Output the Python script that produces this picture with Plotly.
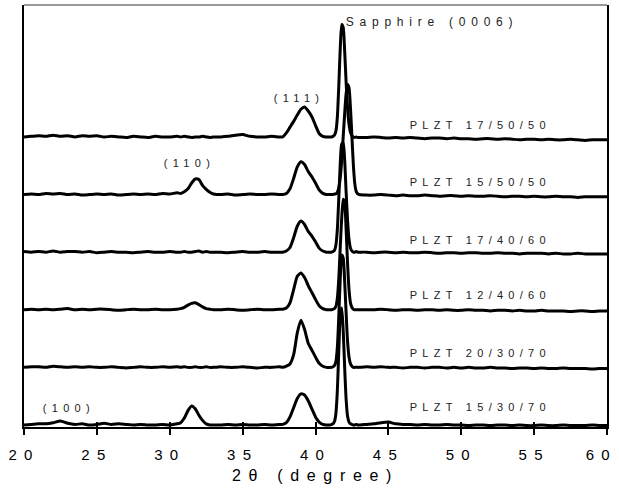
import plotly.graph_objects as go

# 2-theta sampling grid (degrees)
two_theta = [
    20, 20.5, 21, 21.5, 22, 22.5, 23, 23.5, 24, 24.5, 25, 25.5, 26, 26.5, 27, 27.5, 28, 28.5, 29, 29.5, 30, 30.5,
    30.75, 31, 31.25, 31.5, 31.75, 32, 32.25, 32.5, 32.75, 33,
    33.5, 34, 34.5, 35, 35.5, 36, 36.5, 37, 37.5,
    37.75, 38, 38.25, 38.5, 38.75, 39, 39.25, 39.5, 39.75, 40, 40.25, 40.5, 40.75,
    41.0, 41.1, 41.2, 41.3, 41.4, 41.5, 41.6, 41.7, 41.8, 41.9, 42.0, 42.1, 42.2, 42.3, 42.4, 42.5, 42.6, 42.7, 42.8, 42.9, 43.0,
    43.5, 44, 44.5, 45, 45.5, 46, 46.5, 47, 47.5, 48, 48.5, 49, 49.5, 50, 50.5, 51, 51.5, 52, 52.5, 53, 53.5, 54, 54.5,
    55, 55.5, 56, 56.5, 57, 57.5, 58, 58.5, 59, 59.5, 60,
]

# Intensities (arbitrary units, relative to each pattern's own baseline)
plzt_17_50_50 = [
    0.00, 0.01, 0.02, 0.01, 0.03, 0.01, 0.02, 0.00, 0.02, 0.01, 0.02, 0.00, 0.01, 0.00, -0.01, 0.01, 0.00, -0.01, 0.01, 0.00, 0.00, 0.01,
    0.00, 0.01, 0.00, -0.01, 0.00, 0.00, 0.01, 0.00, -0.01, 0.00,
    0.00, 0.01, 0.03, 0.04, 0.01, 0.00, 0.00, 0.01, 0.00,
    0.00, 0.07, 0.17, 0.27, 0.38, 0.48, 0.52, 0.45, 0.35, 0.20, 0.06, 0.01, 0.00,
    0.00, 0.00, 0.01, 0.03, 0.10, 0.35, 0.90, 1.55, 1.95, 1.90, 1.50, 0.95, 0.50, 0.22, 0.08, 0.02, 0.00, -0.01, 0.00, -0.01, -0.01,
    -0.01, 0.00, -0.01, -0.02, -0.01, -0.02, -0.01, -0.02, -0.03, -0.02, -0.02, -0.03, -0.02, -0.03, -0.03, -0.04, -0.03,
    -0.03, -0.04, -0.03, -0.04, -0.05, -0.04, -0.04, -0.05, -0.04, -0.05, -0.05, -0.04, -0.05, -0.06, -0.05, -0.05, -0.05,
]
plzt_15_50_50 = [
    0.00, 0.01, 0.00, 0.02, 0.01, 0.02, 0.00, 0.01, -0.01, 0.00, 0.01, 0.00, 0.01, -0.01, 0.00, 0.01, 0.00, 0.01, 0.00, 0.02, 0.01, 0.03,
    0.02, 0.05, 0.10, 0.20, 0.27, 0.26, 0.16, 0.09, 0.04, 0.01,
    0.00, 0.01, -0.01, 0.00, 0.01, 0.00, 0.00, 0.01, 0.00,
    0.00, 0.02, 0.10, 0.28, 0.48, 0.57, 0.52, 0.40, 0.31, 0.20, 0.08, 0.02, 0.00,
    0.00, 0.00, 0.00, 0.01, 0.01, 0.04, 0.12, 0.30, 0.60, 1.00, 1.40, 1.75, 1.91, 1.85, 1.50, 1.00, 0.50, 0.18, 0.05, 0.01, 0.00,
    -0.01, -0.01, 0.00, -0.01, -0.02, -0.01, -0.02, -0.02, -0.01, -0.02, -0.03, -0.02, -0.02, -0.03, -0.02, -0.03, -0.03,
    -0.02, -0.03, -0.04, -0.03, -0.03, -0.04, -0.03, -0.04, -0.04, -0.03, -0.04, -0.04, -0.05, -0.04, -0.04, -0.04, -0.04,
]
plzt_17_40_60 = [
    0.01, 0.00, 0.01, 0.00, 0.02, 0.00, 0.01, 0.01, 0.00, 0.01, -0.01, 0.00, 0.01, 0.00, 0.00, -0.01, 0.00, 0.01, 0.00, 0.00, 0.01, 0.00,
    0.00, 0.01, 0.00, 0.00, 0.01, 0.02, 0.00, 0.01, 0.00, 0.00,
    0.00, -0.01, 0.00, 0.01, 0.00, 0.00, 0.01, 0.00, 0.00,
    0.00, 0.02, 0.08, 0.25, 0.45, 0.54, 0.48, 0.36, 0.28, 0.18, 0.07, 0.02, 0.00,
    0.00, 0.00, 0.01, 0.03, 0.12, 0.40, 0.95, 1.55, 1.88, 1.90, 1.60, 1.05, 0.55, 0.22, 0.07, 0.02, 0.00, 0.00, 0.01, 0.00, 0.00,
    0.00, -0.01, 0.00, 0.00, -0.01, 0.00, -0.01, -0.01, 0.00, -0.01, -0.02, -0.01, -0.01, -0.02, -0.01, -0.01, -0.02,
    -0.02, -0.01, -0.02, -0.02, -0.03, -0.02, -0.02, -0.02, -0.03, -0.02, -0.03, -0.03, -0.02, -0.03, -0.03, -0.03, -0.03,
]
plzt_12_40_60 = [
    0.00, 0.01, 0.00, 0.01, 0.00, 0.01, 0.02, 0.00, 0.01, 0.00, 0.01, 0.01, 0.00, -0.01, 0.00, 0.01, 0.00, 0.00, 0.01, 0.00, 0.00, 0.01,
    0.02, 0.04, 0.08, 0.11, 0.12, 0.09, 0.05, 0.02, 0.01, 0.00,
    0.00, 0.01, 0.00, -0.01, 0.00, 0.01, 0.00, 0.00, 0.01,
    0.01, 0.03, 0.12, 0.35, 0.58, 0.64, 0.56, 0.42, 0.30, 0.18, 0.07, 0.02, 0.00,
    0.00, 0.00, 0.01, 0.02, 0.06, 0.20, 0.55, 1.10, 1.60, 1.92, 1.85, 1.40, 0.80, 0.35, 0.12, 0.04, 0.01, 0.00, 0.00, 0.00, 0.00,
    0.00, 0.00, 0.01, 0.00, -0.01, 0.00, 0.00, -0.01, 0.00, 0.00, -0.01, 0.00, -0.01, -0.01, 0.00, -0.01, -0.01,
    -0.02, -0.01, -0.01, -0.02, -0.01, -0.02, -0.02, -0.01, -0.02, -0.02, -0.02, -0.03, -0.02, -0.02, -0.03, -0.02, -0.02,
]
plzt_20_30_70 = [
    0.00, 0.01, 0.01, 0.00, 0.02, 0.01, 0.00, 0.01, 0.00, 0.01, 0.00, 0.00, 0.01, 0.00, -0.01, 0.00, 0.01, 0.00, 0.00, 0.01, 0.00, 0.01,
    0.00, 0.01, 0.00, 0.00, 0.01, 0.00, 0.00, 0.01, 0.00, 0.00,
    0.01, 0.00, 0.00, 0.01, 0.00, -0.01, 0.00, 0.00, 0.01,
    0.00, 0.02, 0.06, 0.22, 0.60, 0.82, 0.66, 0.42, 0.30, 0.18, 0.07, 0.02, 0.00,
    0.00, 0.00, 0.01, 0.03, 0.10, 0.35, 0.90, 1.55, 1.95, 1.90, 1.50, 0.95, 0.45, 0.18, 0.06, 0.02, 0.00, 0.00, 0.00, 0.00, 0.00,
    0.01, 0.00, 0.01, 0.00, 0.00, -0.01, 0.00, 0.00, -0.01, 0.00, 0.00, -0.01, 0.00, -0.01, 0.00, -0.01, -0.01,
    0.00, -0.01, -0.01, -0.02, -0.01, -0.01, -0.02, -0.01, -0.02, -0.02, -0.01, -0.02, -0.02, -0.02, -0.03, -0.02, -0.02,
]
plzt_15_30_70 = [
    0.00, 0.01, 0.02, 0.02, 0.04, 0.07, 0.03, 0.01, 0.02, 0.00, 0.01, 0.03, 0.01, 0.02, 0.01, 0.00, 0.01, 0.00, 0.00, 0.01, 0.00, 0.02,
    0.04, 0.12, 0.25, 0.33, 0.28, 0.17, 0.08, 0.02, 0.00, 0.00,
    0.00, 0.01, 0.00, 0.01, 0.00, 0.00, 0.01, 0.00, 0.01,
    0.01, 0.04, 0.14, 0.30, 0.46, 0.54, 0.52, 0.42, 0.28, 0.14, 0.05, 0.01, 0.00,
    0.00, 0.01, 0.02, 0.06, 0.20, 0.60, 1.30, 1.90, 2.03, 1.65, 1.00, 0.45, 0.15, 0.05, 0.02, 0.01, 0.00, 0.00, 0.01, 0.00, 0.00,
    0.01, 0.02, 0.04, 0.05, 0.02, 0.01, 0.01, 0.00, 0.01, 0.00, 0.00, 0.01, 0.00, 0.00, -0.01, 0.00, 0.00,
    -0.01, 0.00, 0.00, -0.01, 0.00, -0.01, -0.01, 0.00, -0.01, -0.01, 0.00, -0.01, -0.01, -0.01, 0.00, -0.01, -0.01,
]

sample_names = ["PLZT 17/50/50", "PLZT 15/50/50", "PLZT 17/40/60",
                "PLZT 12/40/60", "PLZT 20/30/70", "PLZT 15/30/70"]
patterns = [plzt_17_50_50, plzt_15_50_50, plzt_17_40_60,
            plzt_12_40_60, plzt_20_30_70, plzt_15_30_70]
stack_offsets = [5, 4, 3, 2, 1, 0]

x_ticks = [20, 25, 30, 35, 40, 45, 50, 55, 60]
x_tick_text = ["20", "25", "30", "35", "40", "45", "50", "55", ""]
last_tick_label = "60"   # drawn slightly inside the right edge, as in the original

for p in patterns:
    assert len(p) == len(two_theta), len(p)

FONT = "Liberation Sans, Arial, sans-serif"
fig = go.Figure()
for name, pat, off in zip(sample_names, patterns, stack_offsets):
    fig.add_trace(go.Scatter(
        x=two_theta, y=[v + off for v in pat], mode="lines", name=name,
        line=dict(color="black", width=3, shape="spline", smoothing=0.6),
        showlegend=False, hoverinfo="skip"))
# helper axis (inside half of the crossing tick marks)
fig.add_trace(go.Scatter(x=[], y=[], xaxis="x2", yaxis="y", showlegend=False))

# labels (centred)
label_y = [5.21, 4.22, 3.21, 2.26, 1.25, 0.31]
annos = []
for name, ly in zip(sample_names, label_y):
    annos.append(dict(x=51.31, y=ly, text=name, xanchor="center", yanchor="middle",
                      showarrow=False, font=dict(family=FONT, size=11, color="#222")))
peak_labels = [("Sapphire (0006)", 47.97, 7.0, 12),
               ("(111)", 38.84, 5.68, 11),
               ("(110)", 31.36, 4.55, 11),
               ("(100)", 23.06, 0.30, 11)]
for t, px, py, fs in peak_labels:
    annos.append(dict(x=px, y=py, text=t, xanchor="center", yanchor="middle",
                      showarrow=False, font=dict(family=FONT, size=fs, color="#222")))
annos.append(dict(x=59.62, xref="x", y=-0.064, yref="paper", text=last_tick_label,
                  xanchor="center", yanchor="middle", showarrow=False,
                  font=dict(family=FONT, size=15, color="black")))

fig.update_layout(
    width=619, height=488,
    margin=dict(l=24, r=12, t=5, b=61),
    paper_bgcolor="white", plot_bgcolor="white",
    font=dict(family=FONT, color="black"),
    annotations=annos,
    xaxis=dict(range=[20, 60], tickvals=x_ticks, ticktext=x_tick_text, ticks="outside", ticklen=6,
               tickwidth=1.5, tickcolor="black", showline=True, linecolor="black", linewidth=2,
               showgrid=False, zeroline=False, tickfont=dict(size=15, family=FONT, color="black"),
               ticklabelstandoff=7,
               title=dict(text="2θ (degree)", font=dict(size=16, family=FONT, color="black"), standoff=8)),
    xaxis2=dict(range=[20, 60], overlaying="x", anchor="y", side="bottom", tickvals=x_ticks,
                ticks="inside", ticklen=5, tickwidth=1.5, tickcolor="black",
                showticklabels=False, showline=False, showgrid=False, zeroline=False),
    yaxis=dict(range=[-0.035, 7.29], showticklabels=False, ticks="", showgrid=False,
               zeroline=False, showline=True, mirror=True, linecolor="black", linewidth=2),
    shapes=[dict(type="line", xref="paper", yref="paper", x0=0, x1=1, y0=1, y1=1,
                 line=dict(color="#777", width=1.5))],
)

post = """
var s=document.createElement('style');
s.textContent='.main-svg text{letter-spacing:0.48em;}';
document.head.appendChild(s);
"""
fig.write_html("out.html", config={"displayModeBar": False}, post_script=post)
